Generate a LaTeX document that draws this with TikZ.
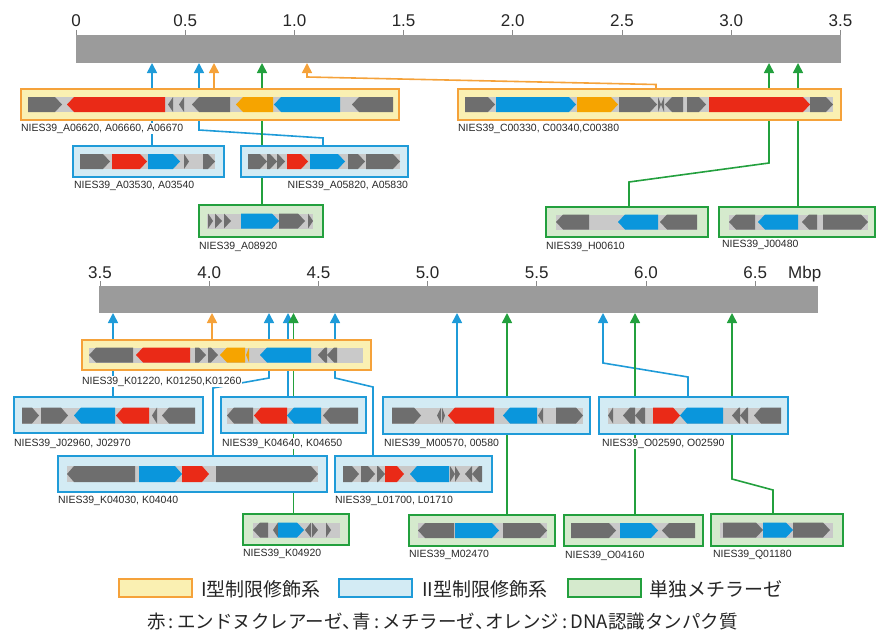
\documentclass[tikz,border=0pt]{standalone}
\usepackage{fontspec}
\setmainfont{Liberation Sans}
\newfontfamily\jpfont{Noto Sans CJK JP}
\usetikzlibrary{arrows.meta}

\definecolor{barC}{HTML}{9B9B9B}
\definecolor{tickC}{HTML}{8A8A8A}
\definecolor{yelC}{HTML}{FAF0B2}
\definecolor{oraC}{HTML}{F5A23A}
\definecolor{ltbC}{HTML}{D3EBF4}
\definecolor{bluC}{HTML}{1F9BD8}
\definecolor{ltgC}{HTML}{D5EACD}
\definecolor{grnC}{HTML}{23A03E}
\definecolor{gGrey}{HTML}{6E6E6E}
\definecolor{gRed}{HTML}{EA2A17}
\definecolor{gBlue}{HTML}{0A96DC}
\definecolor{gOra}{HTML}{F6A400}
\definecolor{bandC}{HTML}{C9C9C9}
\definecolor{labC}{HTML}{2A2A2A}

% gene half height and head length
\def\gh{7.5}
% right-pointing gene: x1, x2, y centre, colour
\newcommand\gR[4]{\fill[#4] (#1,#3-\gh) -- ({max(#1,#2-7)},#3-\gh) -- (#2,#3) -- ({max(#1,#2-7)},#3+\gh) -- (#1,#3+\gh) -- cycle;}
% left-pointing gene: x1 (tip), x2, y centre, colour
\newcommand\gL[4]{\fill[#4] (#2,#3-\gh) -- ({min(#2,#1+7)},#3-\gh) -- (#1,#3) -- ({min(#2,#1+7)},#3+\gh) -- (#2,#3+\gh) -- cycle;}
% light grey track behind the genes
\newcommand\band[3]{\fill[bandC] (#1,#3-\gh) rectangle (#2,#3+\gh);}
% framed region: name, style, x1, y1, x2, y2
\newcommand\gbox[6]{\node[#2, minimum width={(#5-#3)*1pt}, minimum height={(#6-#4)*1pt}] (#1) at ({(#3+#5)/2},{(#4+#6)/2}) {};}
% vertical reference coordinate
\newcommand\vc[2]{\coordinate (#1) at (#2,0);}
% narrow punctuation for the caption line
\newcommand\nc{\makebox[0.62em][c]{:}}
\newcommand\nt{\makebox[0.55em][l]{、}}

\begin{document}
\begin{tikzpicture}[x=1pt,y=-1pt,
  boxI/.style={draw=oraC, fill=yelC, line width=1.8pt, inner sep=0pt, outer sep=0pt},
  boxII/.style={draw=bluC, fill=ltbC, line width=1.8pt, inner sep=0pt, outer sep=0pt},
  boxM/.style={draw=grnC, fill=ltgC, line width=1.8pt, inner sep=0pt, outer sep=0pt},
  barbox/.style={fill=barC, inner sep=0pt, outer sep=0pt},
  lab/.style={font=\fontsize{10.5}{12}\selectfont, fill=white, inner sep=0.8pt, text=labC},
  num/.style={font=\fontsize{17}{19}\selectfont, anchor=base, text=black!85, inner sep=0pt},
  conn/.style={line width=1.6pt, -{Triangle[width=10pt,length=10pt]}},
  cB/.style={conn, draw=bluC, color=bluC},
  cO/.style={conn, draw=oraC, color=oraC},
  cG/.style={conn, draw=grnC, color=grnC},
  leg/.style={font=\jpfont\fontsize{19}{21}\selectfont, anchor=base west, inner sep=0pt, text=black!85},
  legbox/.style={line width=1.7pt, minimum width=73pt, minimum height=18pt, anchor=north west},
]
\useasboundingbox (0,0) rectangle (877,634);

% chromosome bars
\gbox{top}{barbox}{76}{35}{841}{63}
\gbox{bot}{barbox}{99}{286}{818}{313}

% reference columns for connectors
\vc{v152}{152}\vc{v199}{199}\vc{v214}{214}\vc{v262}{262}\vc{v307}{307}
\vc{v656}{656}\vc{v629}{629}\vc{v769}{769}\vc{v798}{798}\vc{v323}{323}
\vc{v113}{113}\vc{v212}{212}\vc{v213}{213}\vc{v269}{269}\vc{v288}{288}
\vc{v293}{293.5}\vc{v373}{373}\vc{v335}{335}\vc{v457}{457}\vc{v507}{507}
\vc{v688}{688}\vc{v603}{603}\vc{v635}{635}\vc{v773}{773}\vc{v732}{732}

% framed regions (placed first so connectors can refer to them)
\begin{scope}[overlay]
\gbox{A066}{boxI}{21}{89}{399}{120}
\gbox{C003}{boxI}{458}{89}{841}{120}
\gbox{A0353}{boxII}{73}{146}{224}{177}
\gbox{A0582}{boxII}{241}{146}{408}{177}
\gbox{A0892}{boxM}{199}{205}{323}{237}
\gbox{H0061}{boxM}{546}{207}{708}{237}
\gbox{J0048}{boxM}{719}{207}{875}{237}
\gbox{K012}{boxI}{82}{340}{371}{370}
\gbox{J0296}{boxII}{14}{397}{203}{433}
\gbox{K0464}{boxII}{221}{397}{366}{433}
\gbox{M0057}{boxII}{383}{397}{590}{434}
\gbox{O0259}{boxII}{599}{397}{788}{434}
\gbox{K0403}{boxII}{58}{456}{327}{492}
\gbox{L0170}{boxII}{335}{456}{492}{492}
\gbox{K0492}{boxM}{243}{514}{349}{545}
\gbox{M0247}{boxM}{409}{515}{555}{546}
\gbox{O0416}{boxM}{564}{515}{703}{546}
\gbox{Q0118}{boxM}{711}{514}{843}{546}
\end{scope}

% connectors, upper chromosome segment
\draw[cB] (v152 |- A0353.north) -- (v152 |- top.south);
\draw[cB] (v323 |- A0582.north) -- (323,138) -- (199,130) -- (v199 |- top.south);
\draw[cO] (v214 |- A066.north) -- (v214 |- top.south);
\draw[cG] (v262 |- A0892.north) -- (v262 |- top.south);
\draw[cO] (v656 |- C003.north) -- (656,84.5) -- (307,77) -- (v307 |- top.south);
\draw[cG] (v629 |- H0061.north) -- (629,182) -- (769,163) -- (v769 |- top.south);
\draw[cG] (v798 |- J0048.north) -- (v798 |- top.south);

% connectors, lower chromosome segment
\draw[cB] (v113 |- J0296.north) -- (v113 |- bot.south);
\draw[cO] (v212 |- K012.north) -- (v212 |- bot.south);
\draw[cB] (v213 |- K0403.north) -- (213,388) -- (269,378) -- (v269 |- bot.south);
\draw[cB] (v288 |- K0464.north) -- (v288 |- bot.south);
\draw[cG] (v293 |- K0492.north) -- (v293 |- bot.south);
\draw[cB] (v373 |- L0170.north) -- (373,387) -- (335,378) -- (v335 |- bot.south);
\draw[cB] (v457 |- M0057.north) -- (v457 |- bot.south);
\draw[cG] (v507 |- M0247.north) -- (v507 |- bot.south);
\draw[cB] (v688 |- O0259.north) -- (688,377) -- (603,363) -- (v603 |- bot.south);
\draw[cG] (v635 |- O0416.north) -- (v635 |- bot.south);
\draw[cG] (v773 |- Q0118.north) -- (773,490) -- (732,479) -- (v732 |- bot.south);

% redraw the framed regions above the connectors
\gbox{A066b}{boxI}{21}{89}{399}{120}
\gbox{C003b}{boxI}{458}{89}{841}{120}
\gbox{A0353b}{boxII}{73}{146}{224}{177}
\gbox{A0582b}{boxII}{241}{146}{408}{177}
\gbox{A0892b}{boxM}{199}{205}{323}{237}
\gbox{H0061b}{boxM}{546}{207}{708}{237}
\gbox{J0048b}{boxM}{719}{207}{875}{237}
\gbox{K012b}{boxI}{82}{340}{371}{370}
\gbox{J0296b}{boxII}{14}{397}{203}{433}
\gbox{K0464b}{boxII}{221}{397}{366}{433}
\gbox{M0057b}{boxII}{383}{397}{590}{434}
\gbox{O0259b}{boxII}{599}{397}{788}{434}
\gbox{K0403b}{boxII}{58}{456}{327}{492}
\gbox{L0170b}{boxII}{335}{456}{492}{492}
\gbox{K0492b}{boxM}{243}{514}{349}{545}
\gbox{M0247b}{boxM}{409}{515}{555}{546}
\gbox{O0416b}{boxM}{564}{515}{703}{546}
\gbox{Q0118b}{boxM}{711}{514}{843}{546}

% ---- gene maps ----
% A06620 region
\band{28}{393}{104.5}
\gR{28}{62}{104.5}{gGrey}
\gL{67}{165}{104.5}{gRed}
\gL{168}{173}{104.5}{gGrey}
\gL{179}{184}{104.5}{gGrey}
\gL{192}{230}{104.5}{gGrey}
\gL{236}{273}{104.5}{gOra}
\gL{274}{340}{104.5}{gBlue}
\gL{352}{393}{104.5}{gGrey}
% C00330 region
\band{465}{833}{104.5}
\gR{465}{495}{104.5}{gGrey}
\gR{496}{576}{104.5}{gBlue}
\gR{577}{618}{104.5}{gOra}
\gR{619}{657}{104.5}{gGrey}
\gR{658}{661}{104.5}{gGrey}
\gL{661}{664}{104.5}{gGrey}
\gL{665}{683}{104.5}{gGrey}
\gR{687}{706}{104.5}{gGrey}
\gR{709}{810}{104.5}{gRed}
\gR{810}{833}{104.5}{gGrey}
% A03530 region
\band{80}{215}{161.5}
\gR{80}{110}{161.5}{gGrey}
\gR{112}{147}{161.5}{gRed}
\gR{148}{180}{161.5}{gBlue}
\gR{184}{189}{161.5}{gGrey}
\gR{203}{215}{161.5}{gGrey}
% A05820 region
\band{248}{400}{161.5}
\gR{248}{267}{161.5}{gGrey}
\gR{267}{277}{161.5}{gGrey}
\gR{277}{285}{161.5}{gGrey}
\gR{287}{308}{161.5}{gRed}
\gR{310}{345}{161.5}{gBlue}
\gR{348}{365}{161.5}{gGrey}
\gR{366}{400}{161.5}{gGrey}
% A08920 region
\band{207}{313}{221}
\gR{208}{213}{221}{gGrey}
\gR{215}{222}{221}{gGrey}
\gR{224}{231}{221}{gGrey}
\gR{241}{279}{221}{gBlue}
\gR{279}{305}{221}{gGrey}
\gR{308}{313}{221}{gGrey}
% H00610 region
\band{556}{697}{222}
\gL{556}{589}{222}{gGrey}
\gL{618}{658}{222}{gBlue}
\gL{660}{697}{222}{gGrey}
% J00480 region
\band{729}{868}{222}
\gL{729}{755}{222}{gGrey}
\gL{758}{798}{222}{gBlue}
\gL{802}{817}{222}{gGrey}
\gR{823}{868}{222}{gGrey}
% K01220 region
\band{89}{363}{355}
\gL{89}{133}{355}{gGrey}
\gL{136}{190}{355}{gRed}
\gR{195}{206}{355}{gGrey}
\gR{208}{218}{355}{gGrey}
\gL{220}{245}{355}{gOra}
\gL{246}{249}{355}{gOra}
\gL{260}{311}{355}{gBlue}
\gL{318}{327}{355}{gGrey}
\gL{327}{337}{355}{gGrey}

\def\gh{8}
% J02960 region
\band{22}{195}{415.5}
\gR{22}{39}{415.5}{gGrey}
\gR{41}{68}{415.5}{gGrey}
\gL{74}{115}{415.5}{gBlue}
\gL{116}{149}{415.5}{gRed}
\gL{152}{157}{415.5}{gGrey}
\gL{162}{195}{415.5}{gGrey}
% K04640 region
\band{227}{358}{415.5}
\gL{227}{253}{415.5}{gGrey}
\gL{254}{287}{415.5}{gRed}
\gL{287}{321}{415.5}{gBlue}
\gL{323}{358}{415.5}{gGrey}
% M00570 region
\band{392}{583}{415.5}
\gR{392}{421}{415.5}{gGrey}
\gL{437}{441}{415.5}{gGrey}
\gR{442}{445}{415.5}{gGrey}
\gL{448}{494}{415.5}{gRed}
\gL{503}{537}{415.5}{gBlue}
\gL{538}{543}{415.5}{gGrey}
\gR{556}{583}{415.5}{gGrey}
% O02590 region
\band{608}{781}{415.5}
\gL{608}{613}{415.5}{gGrey}
\gL{623}{635}{415.5}{gGrey}
\gL{635}{645}{415.5}{gGrey}
\gR{653}{680}{415.5}{gRed}
\gL{680}{723}{415.5}{gBlue}
\gL{732}{740}{415.5}{gGrey}
\gL{740}{748}{415.5}{gGrey}
\gL{754}{781}{415.5}{gGrey}
% K04030 region
\band{67}{318}{474}
\gL{67}{135}{474}{gGrey}
\gR{139}{182}{474}{gBlue}
\gR{182}{209}{474}{gRed}
\gR{216}{318}{474}{gGrey}
% L01700 region
\band{343}{482}{474}
\gR{343}{359}{474}{gGrey}
\gR{361}{375}{474}{gGrey}
\gR{377}{385}{474}{gGrey}
\gR{385}{404}{474}{gRed}
\gL{410}{449}{474}{gBlue}
\gR{450}{455}{474}{gGrey}
\gR{455}{460}{474}{gGrey}
\gL{465}{472}{474}{gGrey}
\gL{472}{482}{474}{gGrey}

\def\gh{7.5}
% K04920 region
\band{253}{340}{530}
\gL{253}{268}{530}{gGrey}
\gL{273}{278}{530}{gGrey}
\gR{278}{304}{530}{gBlue}
\gL{305}{311}{530}{gGrey}
\gR{312}{318}{530}{gGrey}
\gR{326}{331}{530}{gGrey}
% M02470 region
\band{418}{547}{530.5}
\gL{418}{454}{530.5}{gGrey}
\gR{455}{499}{530.5}{gBlue}
\gR{503}{547}{530.5}{gGrey}
% O04160 region
\band{571}{695}{530.5}
\gR{571}{616}{530.5}{gGrey}
\gR{620}{658}{530.5}{gBlue}
\gL{662}{695}{530.5}{gGrey}
% Q01180 region
\band{720}{833}{530}
\gR{723}{763}{530}{gGrey}
\gR{763}{793}{530}{gBlue}
\gR{793}{830}{530}{gGrey}

% ---- locus labels ----
\node[lab, anchor=base west] (tA066) at (20,131) {NIES39\_A06620, A06660, A06670};
\node[lab, anchor=base west] (tC003) at (457,131) {NIES39\_C00330, C00340,C00380};
\node[lab, anchor=base west] (tA0353) at (73,188) {NIES39\_A03530, A03540};
\node[lab, anchor=base east] (tA0582) at (409,188) {NIES39\_A05820, A05830};
\node[lab, anchor=base west] (tA0892) at (198,249) {NIES39\_A08920};
\node[lab, anchor=base west] (tH0061) at (545,249) {NIES39\_H00610};
\node[lab, anchor=base west] (tJ0048) at (721,247) {NIES39\_J00480};
\node[lab, anchor=base west] (tK012) at (81,384) {NIES39\_K01220, K01250,K01260};
\node[lab, anchor=base west] (tJ0296) at (13,446) {NIES39\_J02960, J02970};
\node[lab, anchor=base west] (tK0464) at (221,446) {NIES39\_K04640, K04650};
\node[lab, anchor=base west] (tM0057) at (383,446) {NIES39\_M00570, 00580};
\node[lab, anchor=base west] (tO0259) at (601,446) {NIES39\_O02590, O02590};
\node[lab, anchor=base west] (tK0403) at (57,503) {NIES39\_K04030, K04040};
\node[lab, anchor=base west] (tL0170) at (334,503) {NIES39\_L01700, L01710};
\node[lab, anchor=base west] (tK0492) at (242,556) {NIES39\_K04920};
\node[lab, anchor=base west] (tM0247) at (408,557) {NIES39\_M02470};
\node[lab, anchor=base west] (tO0416) at (564,558) {NIES39\_O04160};
\node[lab, anchor=base west] (tQ0118) at (712,557) {NIES39\_Q01180};

% ---- scales ----
\foreach \v/\t [count=\i from 0] in {0/0,0.5/0.5,1.0/1.0,1.5/1.5,2.0/2.0,2.5/2.5,3.0/3.0,3.5/3.5}{
  \pgfmathsetmacro\xx{76+218.4*\v}
  \draw[tickC, line width=0.8pt] (\xx,30) -- (\xx,35);
  \node[num] (tt\i) at (\xx,27) {\t};
}
\foreach \v/\t [count=\i from 0] in {3.5/3.5,4.0/4.0,4.5/4.5,5.0/5.0,5.5/5.5,6.0/6.0,6.5/6.5}{
  \pgfmathsetmacro\xx{100+218.4*(\v-3.5)}
  \draw[tickC, line width=0.8pt] (\xx,281) -- (\xx,286);
  \node[num] (bt\i) at (\xx,278) {\t};
}
\node[num, anchor=base west] (mbp) at (788,278) {Mbp};

% ---- legend ----
\node[boxI, legbox] (lgI) at (119,579) {};
\node[leg] (lgIt) at (201,596) {I型制限修飾系};
\node[boxII, legbox] (lgII) at (339,579) {};
\node[leg] (lgIIt) at (422,596) {II型制限修飾系};
\node[boxM, legbox] (lgM) at (568,579) {};
\node[leg] (lgMt) at (649,596) {単独メチラーゼ};
\node[leg, font=\jpfont\fontsize{18.5}{20}\selectfont] (lgcol) at (147,628.5) {赤\nc エンドヌクレアーゼ\nt 青\nc メチラーゼ\nt オレンジ\nc DNA認識タンパク質};
\end{tikzpicture}
\end{document}
